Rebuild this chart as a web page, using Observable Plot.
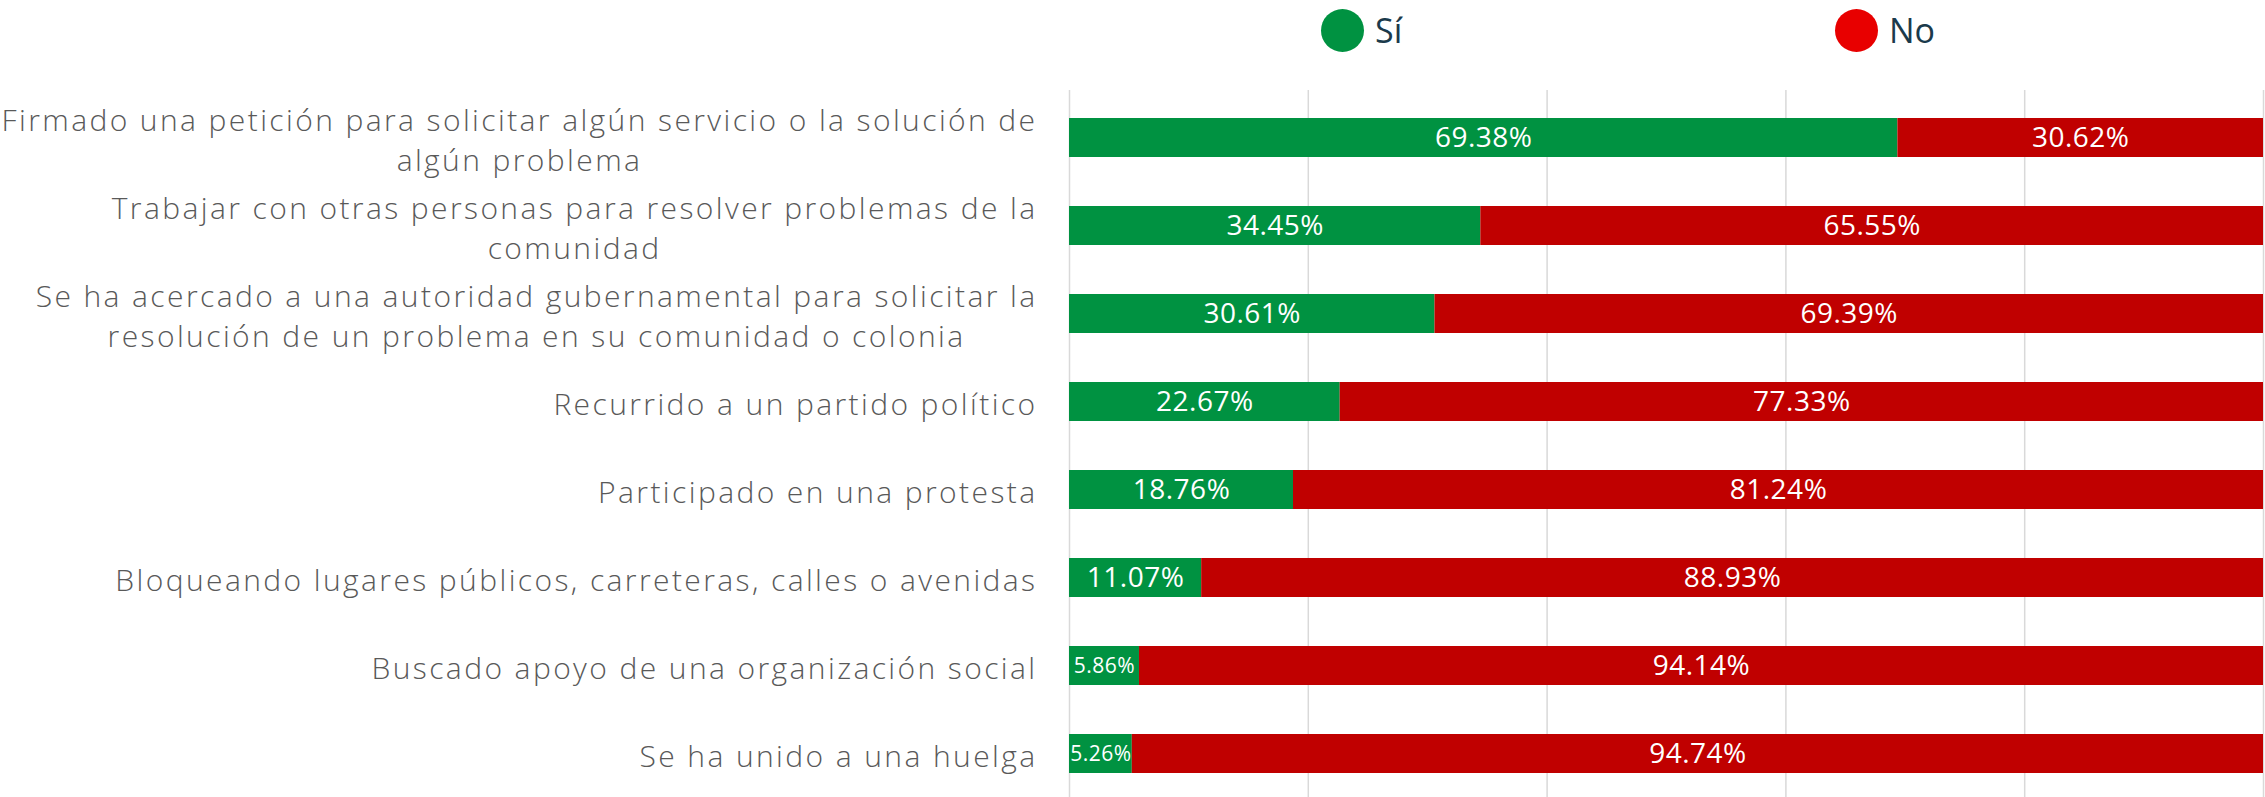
<!DOCTYPE html>
<html>
<head>
<meta charset="utf-8">
<script src="https://cdn.jsdelivr.net/npm/d3@7"></script>
<script src="https://cdn.jsdelivr.net/npm/@observablehq/plot@0.6"></script>
<style>
  html, body { margin: 0; padding: 0; background: #fff; }
  #wrap { width: 2265px; font-family: "Open Sans", Lato, sans-serif; }
  #legend { position: relative; width: 2265px; height: 60px; }
  .lg-dot { position: absolute; width: 43px; height: 43px; border-radius: 50%; top: 9px; }
  .lg-txt { position: absolute; top: 8px; font-size: 34px; line-height: 44px; color: #1b3a4b; font-weight: 400; }
  .vals text { letter-spacing: 0.5px; }
  .ylab text { letter-spacing: 2.4px; }
</style>
</head>
<body>
<div id="wrap">
  <div id="legend"></div>
  <div id="chart"></div>
</div>
<script>
const categories = [
  "Firmado una petición para solicitar algún servicio o la solución de\nalgún problema",
  "Trabajar con otras personas para resolver problemas de la\ncomunidad",
  "Se ha acercado a una autoridad gubernamental para solicitar la\nresolución de un problema en su comunidad o colonia",
  "Recurrido a un partido político",
  "Participado en una protesta",
  "Bloqueando lugares públicos, carreteras, calles o avenidas",
  "Buscado apoyo de una organización social",
  "Se ha unido a una huelga"
];
const siValues = [69.38, 34.45, 30.61, 22.67, 18.76, 11.07, 5.86, 5.26];
const noValues = [30.62, 65.55, 69.39, 77.33, 81.24, 88.93, 94.14, 94.74];
const seriesNames = ["Sí", "No"];
const seriesColors = ["#009241", "#c00000"];
const legendColors = ["#009241", "#e80000"];
const gridTicks = [0, 20, 40, 60, 80, 100];

const rows = [];
categories.forEach((c, i) => {
  rows.push({cat: c, resp: "Sí", value: siValues[i]});
  rows.push({cat: c, resp: "No", value: noValues[i]});
});

// legend (HTML)
const legend = document.getElementById("legend");
const legendPos = [[1321, 1375], [1835, 1889]];
seriesNames.forEach((s, i) => {
  const dot = document.createElement("div");
  dot.className = "lg-dot";
  dot.style.left = legendPos[i][0] + "px";
  dot.style.background = legendColors[i];
  legend.appendChild(dot);
  const t = document.createElement("div");
  t.className = "lg-txt";
  t.style.left = legendPos[i][1] + "px";
  t.textContent = s;
  legend.appendChild(t);
});

const chart = Plot.plot({
  width: 2265,
  height: 737,
  marginLeft: 1069,
  marginRight: 2,
  marginTop: 30,
  marginBottom: -4,
  style: {fontFamily: '"Open Sans", Lato, sans-serif', background: "#fff"},
  x: {domain: [0, 100], axis: null},
  y: {domain: categories, paddingInner: 0.56, paddingOuter: 0.28, axis: null, label: null},
  color: {domain: seriesNames, range: seriesColors},
  marks: [
    Plot.ruleX(gridTicks, {stroke: "#d9d9d9", strokeWidth: 1.5}),
    Plot.barX(rows, Plot.stackX({x: "value", y: "cat", fill: "resp"})),
    Plot.text(rows, Plot.stackX({
      x: "value", y: "cat", z: "resp",
      text: d => d.value.toFixed(2) + "%",
      fill: "white",
      fontSize: d => d.value < 8 ? 21 : 28,
      fontWeight: 400,
      className: "vals"
    })),
    Plot.axisY({
      label: null,
      tickSize: 0,
      tickPadding: 32,
      fontSize: 30,
      fontWeight: 300,
      lineHeight: 1.33,
      color: "#595959",
      textAnchor: "end",
      className: "ylab"
    })
  ]
});
document.getElementById("chart").appendChild(chart);

// center multi-line labels as a block (right edge aligned)
d3.select(chart).selectAll("g[aria-label='y-axis tick label'] text").each(function() {
  const tspans = this.querySelectorAll("tspan");
  if (tspans.length > 1) {
    const w = this.getBBox().width;
    this.setAttribute("text-anchor", "middle");
    tspans.forEach(t => t.setAttribute("x", -w / 2));
  }
});
</script>
</body>
</html>
